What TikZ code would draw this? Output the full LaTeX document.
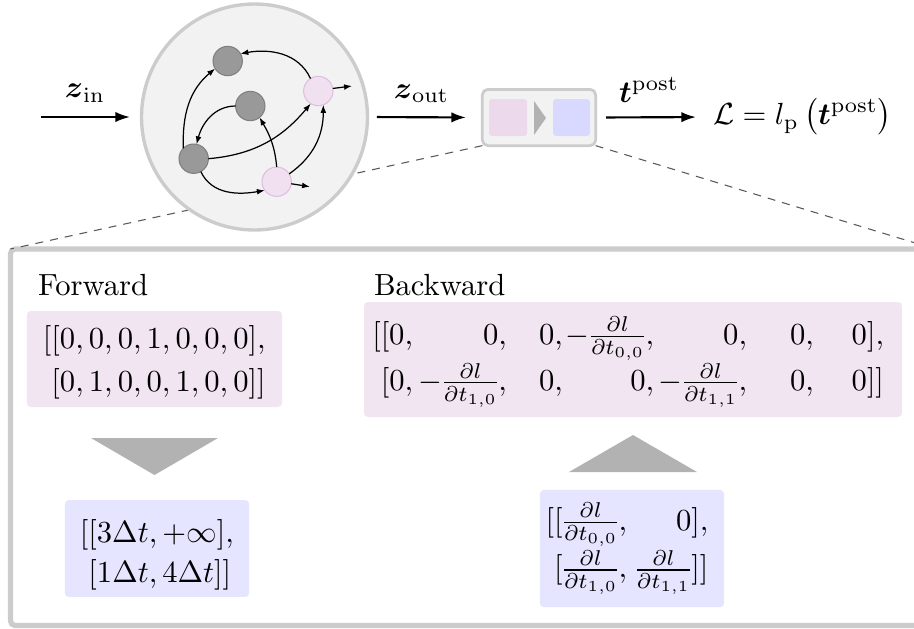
\documentclass[tikz,border=0pt]{standalone}
\usepackage{amsmath}
\usetikzlibrary{arrows.meta}
\newcommand{\tworows}[3]{\vtop{\baselineskip=#1\relax\lineskiplimit=-\maxdimen\lineskip=0pt\hbox{#2}\hbox{#3}}}
\newcommand{\colr}[2]{\makebox[#1][r]{$#2$}}
\newcommand{\dldt}[1]{\frac{\partial l}{\partial t_{#1}}}
\begin{document}
\begin{tikzpicture}[x=0.327pt,y=-0.327pt,
  mainarrow/.style={line width=0.7pt,-{Latex[length=4.8pt,width=3.4pt]}},
  edgearrow/.style={line width=0.4pt,-{Latex[length=2.6pt,width=1.9pt]}},
  gnode/.style={circle,minimum size=9.6pt,inner sep=0pt,outer sep=0pt,line width=0.35pt,draw=black!50,fill=black!40},
  pnode/.style={circle,minimum size=9.6pt,inner sep=0pt,outer sep=0pt,line width=0.35pt,draw=violet!25,fill=violet!12},
  matbox/.style={rectangle,rounded corners=1.3pt,inner sep=0pt,outer sep=0pt},
  pinkbox/.style={matbox,fill=violet!10},
  bluebox/.style={matbox,fill=blue!10},
  txt/.style={inner sep=0pt,outer sep=0pt},
  lbl/.style={inner sep=0pt,above=4.4pt},
  zoomline/.style={draw=black!65,line width=0.35pt,dash pattern=on 2.6pt off 2.3pt},
]
\useasboundingbox (0,0) rectangle (914,628);
\clip (0,0) rectangle (914,628);

% detail frame
\draw[draw=black!20,line width=1.7pt,rounded corners=1.5pt,fill=white] (10.5,249) rectangle (935,625.5);
\coordinate (ftl) at (10.5,249);
\coordinate (ftr) at (935,249);

% small box (neuron output stage)
\node[rectangle,draw=black!20,fill=black!5,line width=0.9pt,rounded corners=1.8pt,
      minimum width=37.05pt,minimum height=18.4pt,inner sep=0pt,outer sep=0pt] (lif) at (539,117.5) {};

% zoom lines
\draw[zoomline] (lif.south west) -- (ftl);
\draw[zoomline] (lif.south east) -- (ftr);

% network circle
\node[circle,draw=black!20,fill=black!5,line width=1.1pt,minimum size=73.9pt,inner sep=0pt,outer sep=0pt] (net) at (254.5,117) {};

\node[gnode] (n1) at (227.7,61) {};
\node[gnode] (n2) at (250.3,106) {};
\node[gnode] (n3) at (193.7,158.7) {};
\node[pnode] (p1) at (318.3,91) {};
\node[pnode] (p2) at (276.7,181.7) {};
\coordinate (p1o) at (352,86);
\coordinate (p2o) at (310,186.7);

\draw[edgearrow] (n3.135) to[out=92,in=220] (n1.211);
\draw[edgearrow] (p1.122) to[out=115,in=10] (n1.30);
\draw[edgearrow] (n2.180) to[out=180,in=75] (n3.79);
\draw[edgearrow] (n3.0) to[out=5,in=230] (p1.239);
\draw[edgearrow] (p2.90) to[out=95,in=-60] (n2.-51);
\draw[edgearrow] (p2.32) to[out=35,in=-90] (p1.-70);
\draw[edgearrow] (n3.-61) to[out=-65,in=190] (p2.216);
\draw[edgearrow] (p1.10) -- (p1o);
\draw[edgearrow] (p2.-8) -- (p2o);

% inside the small box
\fill[violet!15,rounded corners=1pt] (489,99) rectangle (527,136);
\fill[blue!15,rounded corners=1pt] (553,99) rectangle (590,136);
\fill[black!30] (534,101) -- (546,118) -- (534,135) -- cycle;

% main arrows
\coordinate (zin) at (41,117);
\node[txt,anchor=west] (loss) at (713,117) {$\mathcal{L} = l_{\mathrm{p}}\left(\boldsymbol{t}^{\mathrm{post}}\right)$};
\draw[mainarrow,shorten >=3.76pt] (zin) -- node[pos=0.438,lbl] (zinl) {$\boldsymbol{z}_{\mathrm{in}}$} (net.west);
\draw[mainarrow,shorten <=3.1pt,shorten >=5.35pt] (net.east) -- node[pos=0.47,lbl] (zoutl) {$\boldsymbol{z}_{\mathrm{out}}$} (lif.west);
\draw[mainarrow,shorten <=3.4pt,shorten >=5.56pt] (lif.east) -- node[pos=0.455,lbl] (tpl) {$\boldsymbol{t}^{\mathrm{post}}$} (loss.west);

% Forward
\node[txt,anchor=base west] (fwdlabel) at (38,295) {Forward};
\node[pinkbox,minimum width=83.4pt,minimum height=31.4pt] (fwdP) at (154.5,359) {};
\node[txt,anchor=base west] (fwdPt) at (43,348) {\tworows{14.3pt}{$[[0,0,0,1,0,0,0],$}{$\hphantom{[}[0,1,0,0,1,0,0]]$}};
\fill[black!30] (91,438) -- (218,438) -- (154.5,475) -- cycle;
\node[bluebox,minimum width=60.2pt,minimum height=31.7pt] (fwdB) at (157,548.5) {};
\node[txt,anchor=base west] (fwdBt) at (80,542) {\tworows{13.1pt}{$[[3\Delta t,+\infty],$}{$\hphantom{[}[1\Delta t,4\Delta t]]$}};

% Backward
\node[txt,anchor=base west] (bwdlabel) at (374,295) {Backward};
\node[pinkbox,minimum width=175.9pt,minimum height=37.6pt] (bwdP) at (633,359.5) {};
\node[txt,anchor=base west] (bwdPt) at (373,344) {\nulldelimiterspace=0.5pt\tworows{15.2pt}%
  {\colr{13.1pt}{[[0,}\colr{30.7pt}{0,}\colr{18.3pt}{0,}\colr{29.8pt}{-\dldt{0,0},}\colr{30.4pt}{0,}\colr{21.9pt}{0,}\colr{22.9pt}{0],}}%
  {\colr{13.1pt}{[0,}\colr{30.7pt}{-\dldt{1,0},}\colr{18.3pt}{0,}\colr{29.8pt}{0,}\colr{30.4pt}{-\dldt{1,1},}\colr{21.9pt}{0,}\colr{22.9pt}{0]]}}};
\fill[black!30] (569,472) -- (697,472) -- (633,435) -- cycle;
\node[bluebox,minimum width=60.2pt,minimum height=38.3pt] (bwdB) at (632,548.5) {};
\node[txt,anchor=base west] (bwdBt) at (550,530) {\nulldelimiterspace=0.5pt\tworows{15.6pt}%
  {\colr{25.2pt}{[[\dldt{0,0},}\colr{26.6pt}{0],}}%
  {\colr{25.2pt}{[\dldt{1,0},}\colr{26.6pt}{\dldt{1,1}]]}}};
\end{tikzpicture}
\end{document}
